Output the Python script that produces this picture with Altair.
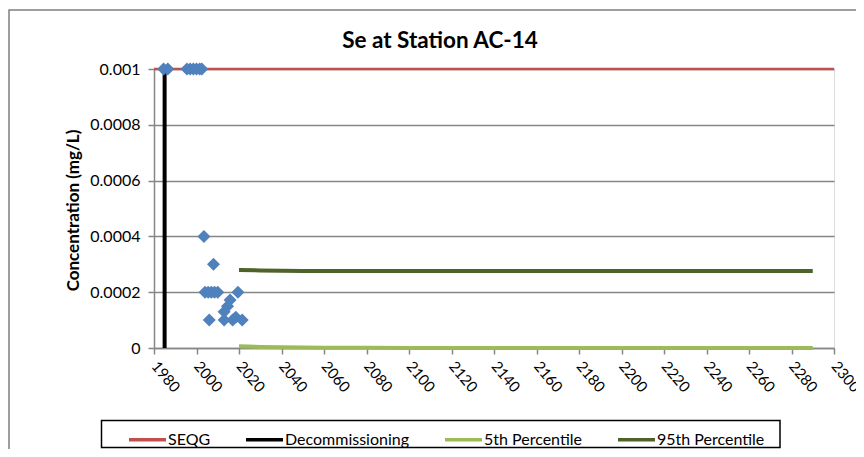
import altair as alt
import pandas as pd

# ---------------- data ----------------
series_names = ["SEQG", "Decommissioning", "5th Percentile", "95th Percentile"]
series_colors = ["#C0504D", "#000000", "#9BBB59", "#4F6228"]

seqg_years = [1980, 2300]
seqg_values = [0.001, 0.001]

decom_years = [1985, 1985]
decom_values = [0.0, 0.001]

pct_years = [2020, 2030, 2040, 2050, 2060, 2080, 2100, 2150, 2200, 2250, 2290]
p95_values = [0.000280, 0.000278, 0.000277, 0.000276, 0.000276, 0.000276,
              0.000276, 0.000276, 0.000276, 0.000276, 0.000276]
p5_values = [0.000006, 0.000004, 0.0000025, 0.0000015, 0.000001, 0.0000006,
             0.0000004, 0.0000002, 0.0000001, 0.0, 0.0]

obs_years = [1984.5, 1986.5, 1995.5, 1997, 1998.5, 2000, 2001.5, 2002.5,
             2003.5, 2008,
             2004, 2005.5, 2007, 2008.5, 2010, 2019.5,
             2015.8, 2014.6, 2013,
             2006, 2013, 2017, 2018.5, 2021.5]
obs_values = [0.001, 0.001, 0.001, 0.001, 0.001, 0.001, 0.001, 0.001,
              0.0004, 0.0003,
              0.0002, 0.0002, 0.0002, 0.0002, 0.0002, 0.0002,
              0.000172, 0.00015, 0.00013,
              0.0001, 0.0001, 0.0001, 0.00011, 0.0001]

x_ticks = list(range(1980, 2301, 20))
y_ticks = [0, 0.0002, 0.0004, 0.0006, 0.0008, 0.001]

title_text = "Se at Station AC-14"
y_title = "Concentration (mg/L)"

# ---------------- tables ----------------
rows = []
for yr, v in zip(seqg_years, seqg_values):
    rows.append({"year": yr, "value": v, "series": "SEQG", "w": 2.5})
for yr, v in zip(decom_years, decom_values):
    rows.append({"year": yr, "value": v, "series": "Decommissioning", "w": 4})
for yr, v in zip(pct_years, p5_values):
    rows.append({"year": yr, "value": v, "series": "5th Percentile", "w": 4})
for yr, v in zip(pct_years, p95_values):
    rows.append({"year": yr, "value": v, "series": "95th Percentile", "w": 4})
lines_df = pd.DataFrame(rows)
obs_df = pd.DataFrame({"year": obs_years, "value": obs_values})

FONT = "Lato"
W, H = 680, 279

x_enc = alt.X("year:Q", scale=alt.Scale(domain=[1980, 2300], nice=False, zero=False),
              axis=alt.Axis(values=x_ticks, format="d", grid=False, title=None,
                            labelAngle=50, labelAlign="left", labelBaseline="middle",
                            labelPadding=9, tickSize=6, labelFontSize=15,
                            labelFont=FONT, labelColor="#000000",
                            domainColor="#868686", tickColor="#868686",
                            domainWidth=1.5, tickWidth=1.5, labelFlush=False,
                            labelOverlap=False))
y_enc = alt.Y("value:Q", scale=alt.Scale(domain=[0, 0.001], nice=False),
              axis=alt.Axis(values=y_ticks, format=".4~f", grid=True,
                            gridColor="#868686", gridWidth=1.5,
                            title=y_title, titleFont=FONT, titleFontSize=17,
                            titleFontWeight="bold", titleColor="#000000",
                            titleX=-81, titleY=141, titleAngle=-90,
                            titleAlign="center", titleBaseline="middle",
                            labelFontSize=16, labelFont=FONT, labelColor="#000000",
                            labelPadding=8, tickSize=6,
                            domainColor="#868686", tickColor="#868686",
                            domainWidth=1.5, tickWidth=1.5, labelFlush=False))

frame = alt.Chart(pd.DataFrame({"a": [0]})).mark_rect(
    fillOpacity=0, stroke="#7F7F7F", strokeWidth=1.5, clip=False
).encode(x=alt.value(-145), x2=alt.value(730), y=alt.value(-59), y2=alt.value(420))

legend_box = alt.Chart(pd.DataFrame({"a": [0]})).mark_rect(
    fillOpacity=0, stroke="#000000", strokeWidth=1.5, clip=False
).encode(x=alt.value(-52.5), x2=alt.value(626), y=alt.value(351.5), y2=alt.value(378.5))

lines = alt.Chart(lines_df).mark_line(clip=False).encode(
    x=x_enc,
    y=y_enc,
    color=alt.Color("series:N",
                    scale=alt.Scale(domain=series_names, range=series_colors),
                    sort=series_names,
                    legend=alt.Legend(title=None, orient="none", legendX=-27, legendY=350,
                                      direction="horizontal", columns=4,
                                      symbolType="stroke", symbolSize=1369,
                                      symbolStrokeWidth=3.5, labelFont=FONT,
                                      labelFontSize=16, labelColor="#000000",
                                      labelOffset=0, columnPadding=28, padding=0)),
    strokeWidth=alt.StrokeWidth("w:Q", scale=None, legend=None),
    order=alt.Order("year:Q"),
)

points = alt.Chart(obs_df).mark_point(shape="diamond", filled=True, size=170,
                                      color="#4F81BD", opacity=1).encode(
    x=alt.X("year:Q"), y=alt.Y("value:Q")
)

title = alt.Chart(pd.DataFrame({"t": [title_text]})).mark_text(
    font=FONT, fontSize=22.5, fontWeight="bold", color="#000000",
    align="center", baseline="middle"
).encode(text="t:N", x=alt.value(286), y=alt.value(-28))

chart = alt.layer(frame, legend_box, lines, points, title).properties(
    width=W, height=H,
    autosize=alt.AutoSizeParams(type="none"),
    padding={"left": 146, "top": 61, "right": 22, "bottom": 101},
).configure_view(strokeWidth=0).configure(background="white")

chart.save("out.html", embed_options={"renderer": "svg", "actions": False})
